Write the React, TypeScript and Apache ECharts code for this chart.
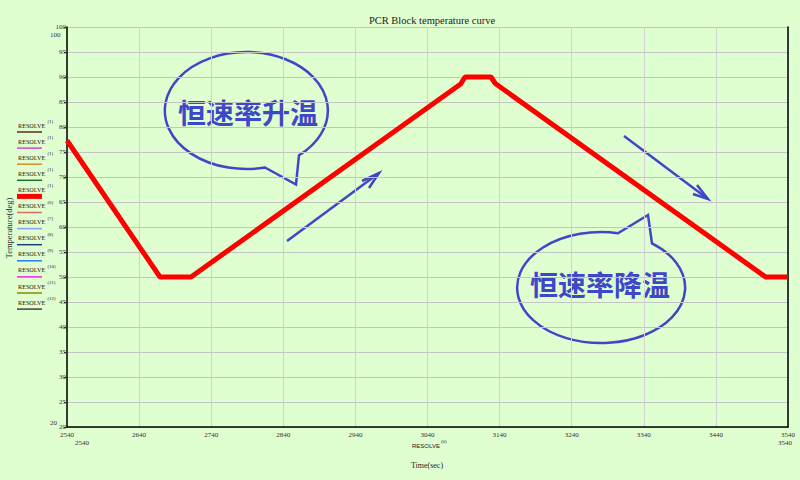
import React, { useEffect, useRef } from "react";
import * as echarts from "echarts";

// ---- data ----
const T0 = 2540;
const times = [2540, 2669, 2712, 3086, 3092, 3128, 3134, 3509, 3540];
const temps = [77.3, 50, 50, 88.6, 90, 90, 88.7, 50, 50];

const legendNames = ["RESOLVE", "RESOLVE", "RESOLVE", "RESOLVE", "RESOLVE", "RESOLVE", "RESOLVE", "RESOLVE", "RESOLVE", "RESOLVE", "RESOLVE", "RESOLVE"];
const legendSup = ["(1)", "(1)", "(1)", "(1)", "(1)", "(6)", "(7)", "(8)", "(9)", "(10)", "(11)", "(12)"];
const legendColors = ["#602818", "#e040d8", "#e08828", "#207030", "#ff0000", "#e06858", "#9898f0", "#1c3c80", "#2080f0", "#f020f0", "#888800", "#404040"];

const titleText = "PCR Block temperature curve";
const yName = "Temperature(deg)";
const xName = "Time(sec)";
const riseText = "恒速率升温";
const fallText = "恒速率降温";

const BG = "#e0ffd0";
const BLUE = "#3f47c9";
const SERIF = "'Liberation Serif', 'Times New Roman', serif";

echarts.graphic.registerShape(
  "bubble1",
  echarts.graphic.extendPath("M 299 155.2 A 81.5 58.5 0 1 0 265 167.5 L 296 184.5 Z", {})
);
echarts.graphic.registerShape(
  "bubble2",
  echarts.graphic.extendPath("M 652 243.4 A 84 55.5 0 1 1 618 233.2 L 648 215 Z", {})
);

function txt(x: number, y: number, text: string, size: number, opts: any = {}) {
  return {
    type: "text",
    x,
    y,
    rotation: opts.rotation || 0,
    silent: true,
    style: {
      text,
      fontSize: size,
      fontFamily: opts.family || SERIF,
      fontWeight: opts.weight || "normal",
      fill: opts.fill || "#222",
      align: opts.align || "left",
      textAlign: opts.align || "left",
      verticalAlign: "middle",
      textVerticalAlign: "middle",
    },
  };
}

export default function App() {
  const ref = useRef<HTMLDivElement>(null);
  useEffect(() => {
    if (!ref.current) return;
    const chart = echarts.init(ref.current, null, { renderer: "svg" });

    const graphics: any[] = [];
    // legend
    legendNames.forEach((n, i) => {
      const yT = 125 + i * 16.1;
      graphics.push(txt(18, yT, n, 6.2, { fill: "#111" }));
      graphics.push(txt(47.5, yT - 3.5, legendSup[i], 4.8, { fill: "#111" }));
      graphics.push({
        type: "line",
        silent: true,
        shape: { x1: 17, y1: yT + 7, x2: 42, y2: yT + 7 },
        style: { stroke: legendColors[i], lineWidth: i === 4 ? 5 : 1.5 },
      });
    });
    // axis names & extra labels
    graphics.push(txt(9, 228, yName, 8.5, { rotation: Math.PI / 2, align: "center" }));
    graphics.push(txt(427, 465, xName, 8, { align: "center" }));
    graphics.push(txt(412, 446, "RESOLVE", 6, { family: "'Liberation Sans', Arial, sans-serif", fill: "#222" }));
    graphics.push(txt(441, 441.5, "(0)", 4.8, { fill: "#222" }));
    graphics.push(txt(50, 35, "100", 7, { fill: "#333" }));
    graphics.push(txt(50, 423, "20", 7, { fill: "#333" }));
    graphics.push(txt(75, 443, "2540", 7, { fill: "#333" }));
    graphics.push(txt(778, 443, "3540", 7, { fill: "#333" }));
    // bubbles
    graphics.push({ type: "bubble1", x: 0, y: 0, silent: true, style: { fill: "none", stroke: BLUE, lineWidth: 2.5 } });
    graphics.push({ type: "bubble2", x: 0, y: 0, silent: true, style: { fill: "none", stroke: BLUE, lineWidth: 2.5 } });
    graphics.push(txt(248, 112, riseText, 28, { family: "'Noto Sans CJK SC', sans-serif", weight: "bold", fill: BLUE, align: "center" }));
    graphics.push(txt(600, 284, fallText, 28, { family: "'Noto Sans CJK SC', sans-serif", weight: "bold", fill: BLUE, align: "center" }));
    // arrows
    const arrowStyle = { stroke: BLUE, lineWidth: 2.5, fill: "none" };
    graphics.push({ type: "polyline", silent: true, shape: { points: [[287, 241], [379, 173]] }, style: arrowStyle });
    graphics.push({ type: "polyline", silent: true, shape: { points: [[362, 181], [379, 173], [369, 188]] }, style: arrowStyle });
    graphics.push({ type: "polyline", silent: true, shape: { points: [[624, 136], [708, 199]] }, style: arrowStyle });
    graphics.push({ type: "polyline", silent: true, shape: { points: [[697, 185], [708, 199], [693, 194]] }, style: arrowStyle });

    chart.setOption({
      animation: false,
      backgroundColor: BG,
      title: {
        text: titleText,
        left: 427,
        textAlign: "center",
        top: 10,
        textStyle: { fontSize: 10.5, fontFamily: SERIF, fontWeight: "normal", color: "#222" },
      },
      grid: { left: 67, right: 12, top: 27, bottom: 53, containLabel: false },
      xAxis: {
        type: "value",
        min: 0,
        max: 1000,
        interval: 100,
        axisLine: { show: true, lineStyle: { color: "#000", width: 1.5 } },
        axisTick: { show: false },
        axisLabel: {
          fontSize: 7,
          fontFamily: SERIF,
          color: "#333",
          margin: 4,
          formatter: (v: number) => String(v + T0),
        },
        splitLine: { show: true, lineStyle: { color: "#d2d2d2", width: 1 } },
      },
      yAxis: [
        {
          type: "value",
          min: 20,
          max: 100,
          interval: 5,
          axisLine: { show: true, lineStyle: { color: "#000", width: 1.5 } },
          axisTick: { show: true, length: 3, lineStyle: { color: "#333" } },
          axisLabel: { fontSize: 7, fontFamily: SERIF, color: "#333", margin: 1 },
          splitLine: { show: true, lineStyle: { color: "#c4c4c4", width: 1 } },
        },
        {
          type: "value",
          position: "right",
          min: 20,
          max: 100,
          interval: 5,
          axisLine: { show: true, lineStyle: { color: "#000", width: 1.5 } },
          axisTick: { show: false },
          axisLabel: { show: false },
          splitLine: { show: false },
        },
      ],
      series: [
        {
          type: "line",
          yAxisIndex: 0,
          showSymbol: false,
          lineStyle: { color: "#ff0000", width: 5 },
          data: times.map((t, i) => [t - T0, temps[i]]),
        },
      ],
      graphic: { elements: graphics },
    });
    return () => chart.dispose();
  }, []);
  return (
    <div
      ref={ref}
      style={{ position: "fixed", left: 0, top: 0, width: 800, height: 480 }}
    />
  );
}
